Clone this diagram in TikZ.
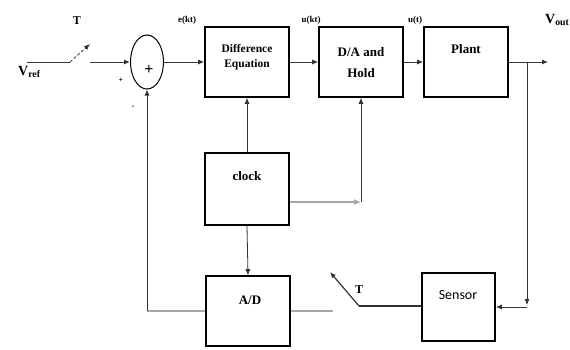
\documentclass[tikz,border=0pt]{standalone}
\usepackage{fontspec}
\setmainfont{Liberation Serif}
\newfontfamily\carlito{Carlito}
\usetikzlibrary{arrows.meta,shapes.geometric}
\begin{document}
\begin{tikzpicture}[x=1pt,y=-1pt,
  blk/.style={draw=black,line width=1.6pt,minimum width=84pt,minimum height=70pt,inner sep=0pt},
  txt/.style={font=\bfseries\fontsize{13}{15}\selectfont,align=center,inner sep=0pt},
  lbl/.style={font=\bfseries\fontsize{9}{10}\selectfont,inner sep=0pt},
  wire/.style={draw=black!80,line width=0.8pt},
  gwire/.style={draw=black!35,line width=2.6pt},
  tip/.style={-{Latex[length=6pt,width=5pt]}}]
\useasboundingbox (0,0) rectangle (570,349);
% blocks
\node[blk] (de) at (247,62) {};
\node[blk] (da) at (361,62) {};
\node[blk] (plant) at (466,62) {};
\node[blk,minimum height=72pt] (clock) at (247,189) {};
\node[blk,minimum height=70pt] (ad) at (248,311) {};
\node[blk,minimum width=73pt,minimum height=68pt] (sensor) at (458.5,307) {};
\node[draw=black,line width=1pt,ellipse,minimum width=33pt,minimum height=54pt,inner sep=0pt] (sum) at (147,62) {};
% texts
\node[txt,font=\bfseries\fontsize{11.5}{13}\selectfont] (det) at (247,57) {Difference\\[2pt]Equation};
\node[txt] (dat) at (361,63) {D/A and\\[6pt]Hold};
\node[txt] (plantt) at (466,49) {Plant};
\node[txt] (clockt) at (247,176) {clock};
\node[txt] (adt) at (250,300) {A/D};
\node[font=\carlito\fontsize{14}{16}\selectfont,inner sep=0pt] (sensort) at (458,295) {Sensor};
\node[font=\bfseries\fontsize{16}{17}\selectfont,inner sep=0pt] (plus) at (149,70) {+};
% labels
\node[lbl] (ekt) at (187,20) {e(kt)};
\node[lbl] (ukt) at (311,20) {u(kt)};
\node[lbl] (ut) at (415,20) {u(t)};
\node[font=\bfseries\fontsize{12}{14}\selectfont,inner sep=0pt] (t1) at (77,21) {T};
\node[font=\bfseries\fontsize{12}{14}\selectfont,inner sep=0pt] (t2) at (359,290) {T};
\node[font=\bfseries\fontsize{14}{16}\selectfont,inner sep=0pt,anchor=west] (vout) at (545,20) {V\textsubscript{out}};
\node[font=\bfseries\fontsize{14}{16}\selectfont,inner sep=0pt,anchor=west] (vref) at (18,72) {V\textsubscript{ref}};
\node[font=\bfseries\fontsize{8}{9}\selectfont,inner sep=0pt] (pl) at (121,80) {+};
\node[font=\bfseries\fontsize{8}{9}\selectfont,inner sep=0pt] (mi) at (133,107) {-};
% coordinates
\coordinate (vin) at (27,62);
\coordinate (s1a) at (70,62);
\coordinate (s1b) at (90,44);
\coordinate (s1c) at (90,62);
\coordinate (vo) at (548,62);
\coordinate (br) at (527,62);
\coordinate (brd) at (527,305);
\coordinate (brs) at (527,307);
\coordinate (s2a) at (359,306);
\coordinate (s2b) at (330,272);
\coordinate (gend) at (333,311);
\coordinate (fb) at (147,311);
\coordinate (ck2) at (361,202);
% forward path
\draw[wire,line width=1pt] (vin) -- (s1a);
\draw[wire,densely dashed,tip] (s1a) -- (s1b);
\draw[wire,line width=1pt,tip] (s1c) -- (sum.west);
\draw[wire,tip] (sum.east) -- (de.west);
\draw[wire,tip] (de.east) -- (da.west);
\draw[wire,tip] (da.east) -- (plant.west);
\draw[wire,tip] (plant.east) -- (vo);
% feedback
\draw[wire,tip] (br) -- (brd);
\draw[wire,tip] (brs) -- (sensor.east |- brs);
\draw[wire,line width=1.2pt] (sensor.west |- s2a) -- (s2a);
\draw[wire,line width=1.2pt,tip] (s2a) -- (s2b);
\draw[gwire] (ad.east) -- (gend);
\draw[gwire] (ad.west) -- (fb);
\draw[wire,tip] (fb) -- (sum.south);
% clock
\draw[wire,tip] (clock.north) -- (de.south);
\draw[wire,tip] (clock.south) -- (ad.north);
\draw[gwire,-{Latex[length=7pt,width=6pt]}] (clock.east |- ck2) -- (ck2);
\draw[wire,tip] (ck2) -- (da.south);
\end{tikzpicture}
\end{document}
